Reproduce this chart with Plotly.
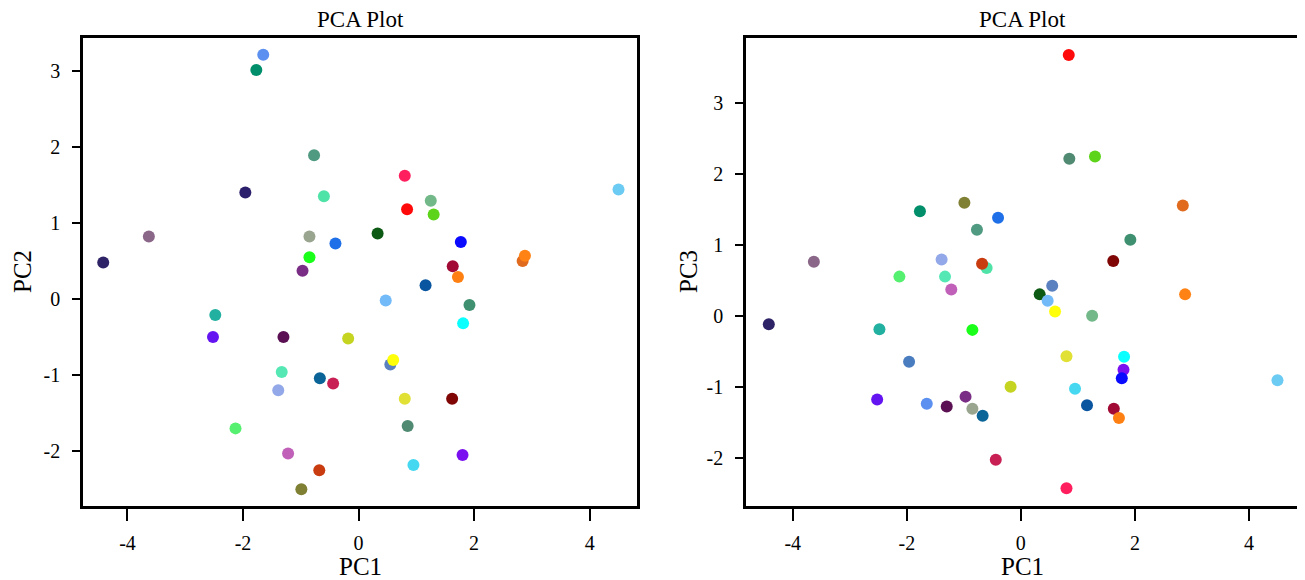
import plotly.graph_objects as go

# Sample data (PC1, PC2, PC3 per sample)
pc1 = [-1.65, -1.77, -0.77, -1.96, -0.60, -3.63, -0.85, -0.40, -0.85, -4.42,
       -0.97, 0.80, 1.25, 0.84, 1.30, 0.33, 4.50, 2.84, 2.88,
       1.63, 1.72, 1.16, 0.47, 1.92, 1.81, -0.18, 0.55, 0.60, -0.44,
       0.80, 1.62, 0.85, 1.80, 1.77, 0.95, -2.48, -2.52, -1.30, -1.33, -0.67,
       -1.39, -2.13, -1.22, -0.68, -0.99]
pc2 = [3.21, 3.01, 1.89, 1.40, 1.35, 0.82, 0.82, 0.73, 0.55, 0.48,
       0.37, 1.62, 1.29, 1.18, 1.11, 0.86, 1.44, 0.50, 0.57,
       0.43, 0.29, 0.18, -0.02, -0.08, -0.32, -0.52, -0.86, -0.80, -1.11,
       -1.31, -1.31, -1.67, -2.05, 0.75, -2.18, -0.21, -0.50, -0.50, -0.96, -1.04,
       -1.20, -1.70, -2.03, -2.25, -2.50]
pc3 = [-1.24, 1.47, 1.21, -0.65, 0.67, 0.76, -1.31, 1.38, -0.20, -0.12,
       -1.14, -2.43, 0.00, 3.67, 2.24, 0.30, -0.91, 1.55, 0.30,
       -1.31, -1.44, -1.26, 0.21, 1.07, -0.58, -1.00, 0.42, 0.06, -2.03,
       -0.57, 0.77, 2.21, -0.76, -0.88, -1.03, -0.19, -1.18, -1.28, 0.55, -1.41,
       0.79, 0.55, 0.37, 0.73, 1.59]
colors = ["#5b8ff0", "#008f6a", "#4f9a80", "#2c1f6b", "#4fe3a8", "#8a6688", "#9aa590", "#1f6fe8", "#1aff1a", "#2e2366",
          "#7a2d85", "#ff1f5f", "#72b888", "#ff0a0a", "#5dd41a", "#0d5a14", "#6ccbf2", "#e06a1e", "#ff8214",
          "#a00a35", "#ff8012", "#0a55a0", "#72baf8", "#3f9070", "#0affff", "#c5d420", "#5a80c0", "#ffff0a", "#c82055",
          "#e0e035", "#800505", "#508a72", "#7a10f0", "#0a0aff", "#45d8f0", "#22b0a0", "#6414f0", "#5a1052", "#55e8b5", "#0a6498",
          "#92a8e8", "#55f070", "#c060b8", "#c83c10", "#808035"]
colors_right = list(colors)
colors_right[3] = "#4a7cc0"

x_ticks = [-4, -2, 0, 2, 4]
y2_ticks = [-2, -1, 0, 1, 2, 3]
y3_ticks = [-2, -1, 0, 1, 2, 3]

OFF = 8  # page body margin
W, H = 1305 - OFF, 580 - OFF
FONT = "Liberation Serif"

def px(v):
    return (v - OFF) / W

def py(v):
    return 1 - (v - OFF) / H

fig = go.Figure()
fig.add_trace(go.Scatter(x=pc1, y=pc2, mode="markers", xaxis="x", yaxis="y",
                         marker=dict(size=12, color=colors, line=dict(width=0)),
                         showlegend=False))
fig.add_trace(go.Scatter(x=pc1, y=pc3, mode="markers", xaxis="x2", yaxis="y2",
                         marker=dict(size=12, color=colors_right, line=dict(width=0)),
                         showlegend=False))

def ax(domain, rng, ticks, anchor, ticklen, standoff):
    return dict(domain=domain, range=rng, tickvals=ticks, ticktext=[str(t) for t in ticks],
                showline=True, mirror=True, linecolor="black", linewidth=2.5,
                ticks="outside", ticklen=ticklen, tickwidth=2, tickcolor="black",
                ticklabelstandoff=standoff,
                showgrid=False, zeroline=False, anchor=anchor,
                tickfont=dict(family=FONT, size=20, color="black"))

fig.update_layout(
    width=W, height=H,
    margin=dict(l=0, r=0, t=0, b=0),
    paper_bgcolor="white", plot_bgcolor="white",
    xaxis=ax([px(83), px(637)], [-4.77, 4.82], x_ticks, "y", 12, 5),
    yaxis=ax([py(506), py(38)], [-2.72, 3.43], y2_ticks, "x", 8, 8),
    xaxis2=ax([px(746), px(1298)], [-4.82, 4.86], x_ticks, "y2", 12, 5),
    yaxis2=ax([py(506), py(38)], [-2.68, 3.91], y3_ticks, "x2", 8, 8),
)

ann = [
    dict(text="PCA Plot", x=px(360), y=py(19), size=23),
    dict(text="PCA Plot", x=px(1022), y=py(19), size=23),
    dict(text="PC1", x=px(360), y=py(566), size=25),
    dict(text="PC1", x=px(1022), y=py(566), size=25),
]
for a in ann:
    fig.add_annotation(text=a["text"], x=a["x"], y=a["y"], xref="paper", yref="paper",
                       showarrow=False, xanchor="center", yanchor="middle",
                       font=dict(family=FONT, size=a["size"], color="black"))
fig.add_annotation(text="PC2", x=px(22), y=py(272), xref="paper", yref="paper",
                   showarrow=False, textangle=-90, xanchor="center", yanchor="middle",
                   font=dict(family=FONT, size=25, color="black"))
fig.add_annotation(text="PC3", x=px(688), y=py(272), xref="paper", yref="paper",
                   showarrow=False, textangle=-90, xanchor="center", yanchor="middle",
                   font=dict(family=FONT, size=25, color="black"))

fig.write_html("out.html")
